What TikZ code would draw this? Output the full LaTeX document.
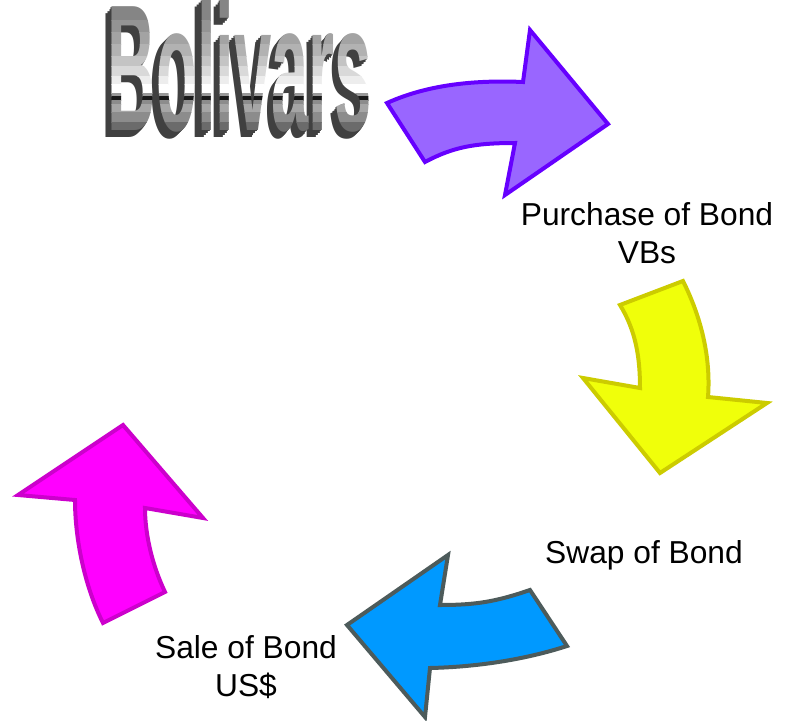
\documentclass[tikz,border=0pt]{standalone}
\usepackage{fontspec}
\setmainfont{Liberation Sans}
\usepackage{tikz}

\definecolor{buyline}{HTML}{6600FF}
\definecolor{buyfill}{HTML}{9966FF}
\definecolor{swapline}{HTML}{CCCC00}
\definecolor{swapfill}{HTML}{F0FF0A}
\definecolor{saleline}{HTML}{4D5B5B}
\definecolor{salefill}{HTML}{0099FF}
\definecolor{backline}{HTML}{CC00CC}
\definecolor{backfill}{HTML}{FF00FF}

\newcommand{\bolword}{\fontsize{135pt}{135pt}\selectfont\bfseries\scalebox{0.372}[1]{Bolivars}}

\begin{document}
\begin{tikzpicture}[x=0.75pt, y=-0.75pt,
  cyclelabel/.style = {align=center, inner sep=0pt, font=\fontsize{23.8pt}{28.5pt}\selectfont},
  curl/.style = {line width=3pt, line join=miter, miter limit=10},
  word/.style = {anchor=base, inner sep=0pt}]
\useasboundingbox (0,0) rectangle (790,721);

\foreach \i in {7,5,3,1}
  \node[word, text=black!75] at (240-0.9*\i, 130+\i) {\bolword};
\foreach \ya/\yb/\g in {0/20/52, 20/32/58, 32/44/64, 44/56/70, 56/66/77, 66/76/85, 76/84/93,
                        84/93/100, 93/96/60, 96/100/10, 100/104/55, 104/112/65, 112/122/55, 122/140/42}
{
  \begin{scope}
    \clip (90,\ya) rectangle (390,\yb);
    \node[word, text=white!\g!black] at (240,130) {\bolword};
  \end{scope}
}

\filldraw[curl, draw=buyline, fill=buyfill]
  (387,103) .. controls (429,84) and (477,80) .. (523,82) -- (530,30) -- (608,124) -- (505,195)
  -- (515,143) .. controls (475,143) and (453,147) .. (425,162) -- cycle;

\filldraw[curl, draw=swapline, fill=swapfill]
  (620,305) -- (683,281) .. controls (701,317) and (711,357) .. (708,397) -- (767,403) -- (660,473)
  -- (583,378) -- (640,388) .. controls (640,358) and (636,331) .. (620,305) -- cycle;

\filldraw[curl, draw=saleline, fill=salefill]
  (530,590) .. controls (495,602) and (475,605) .. (440,605) -- (448,555) -- (347,625) -- (425,717)
  -- (430,668) .. controls (475,667) and (524,660) .. (567,646) -- cycle;

\filldraw[curl, draw=backline, fill=backfill]
  (123,425) -- (203,518) -- (145,508) .. controls (145,536) and (153,567) .. (165,592) -- (103,623)
  .. controls (85,587) and (75,540) .. (75,500) -- (18,495) -- cycle;

\node[cyclelabel] (purchase) at (647,233) {Purchase of Bond\\VBs};
\node[cyclelabel] (swap) at (644,555) {Swap of Bond};
\node[cyclelabel] (sale) at (246,667) {Sale of Bond\\US\$};
\end{tikzpicture}
\end{document}
